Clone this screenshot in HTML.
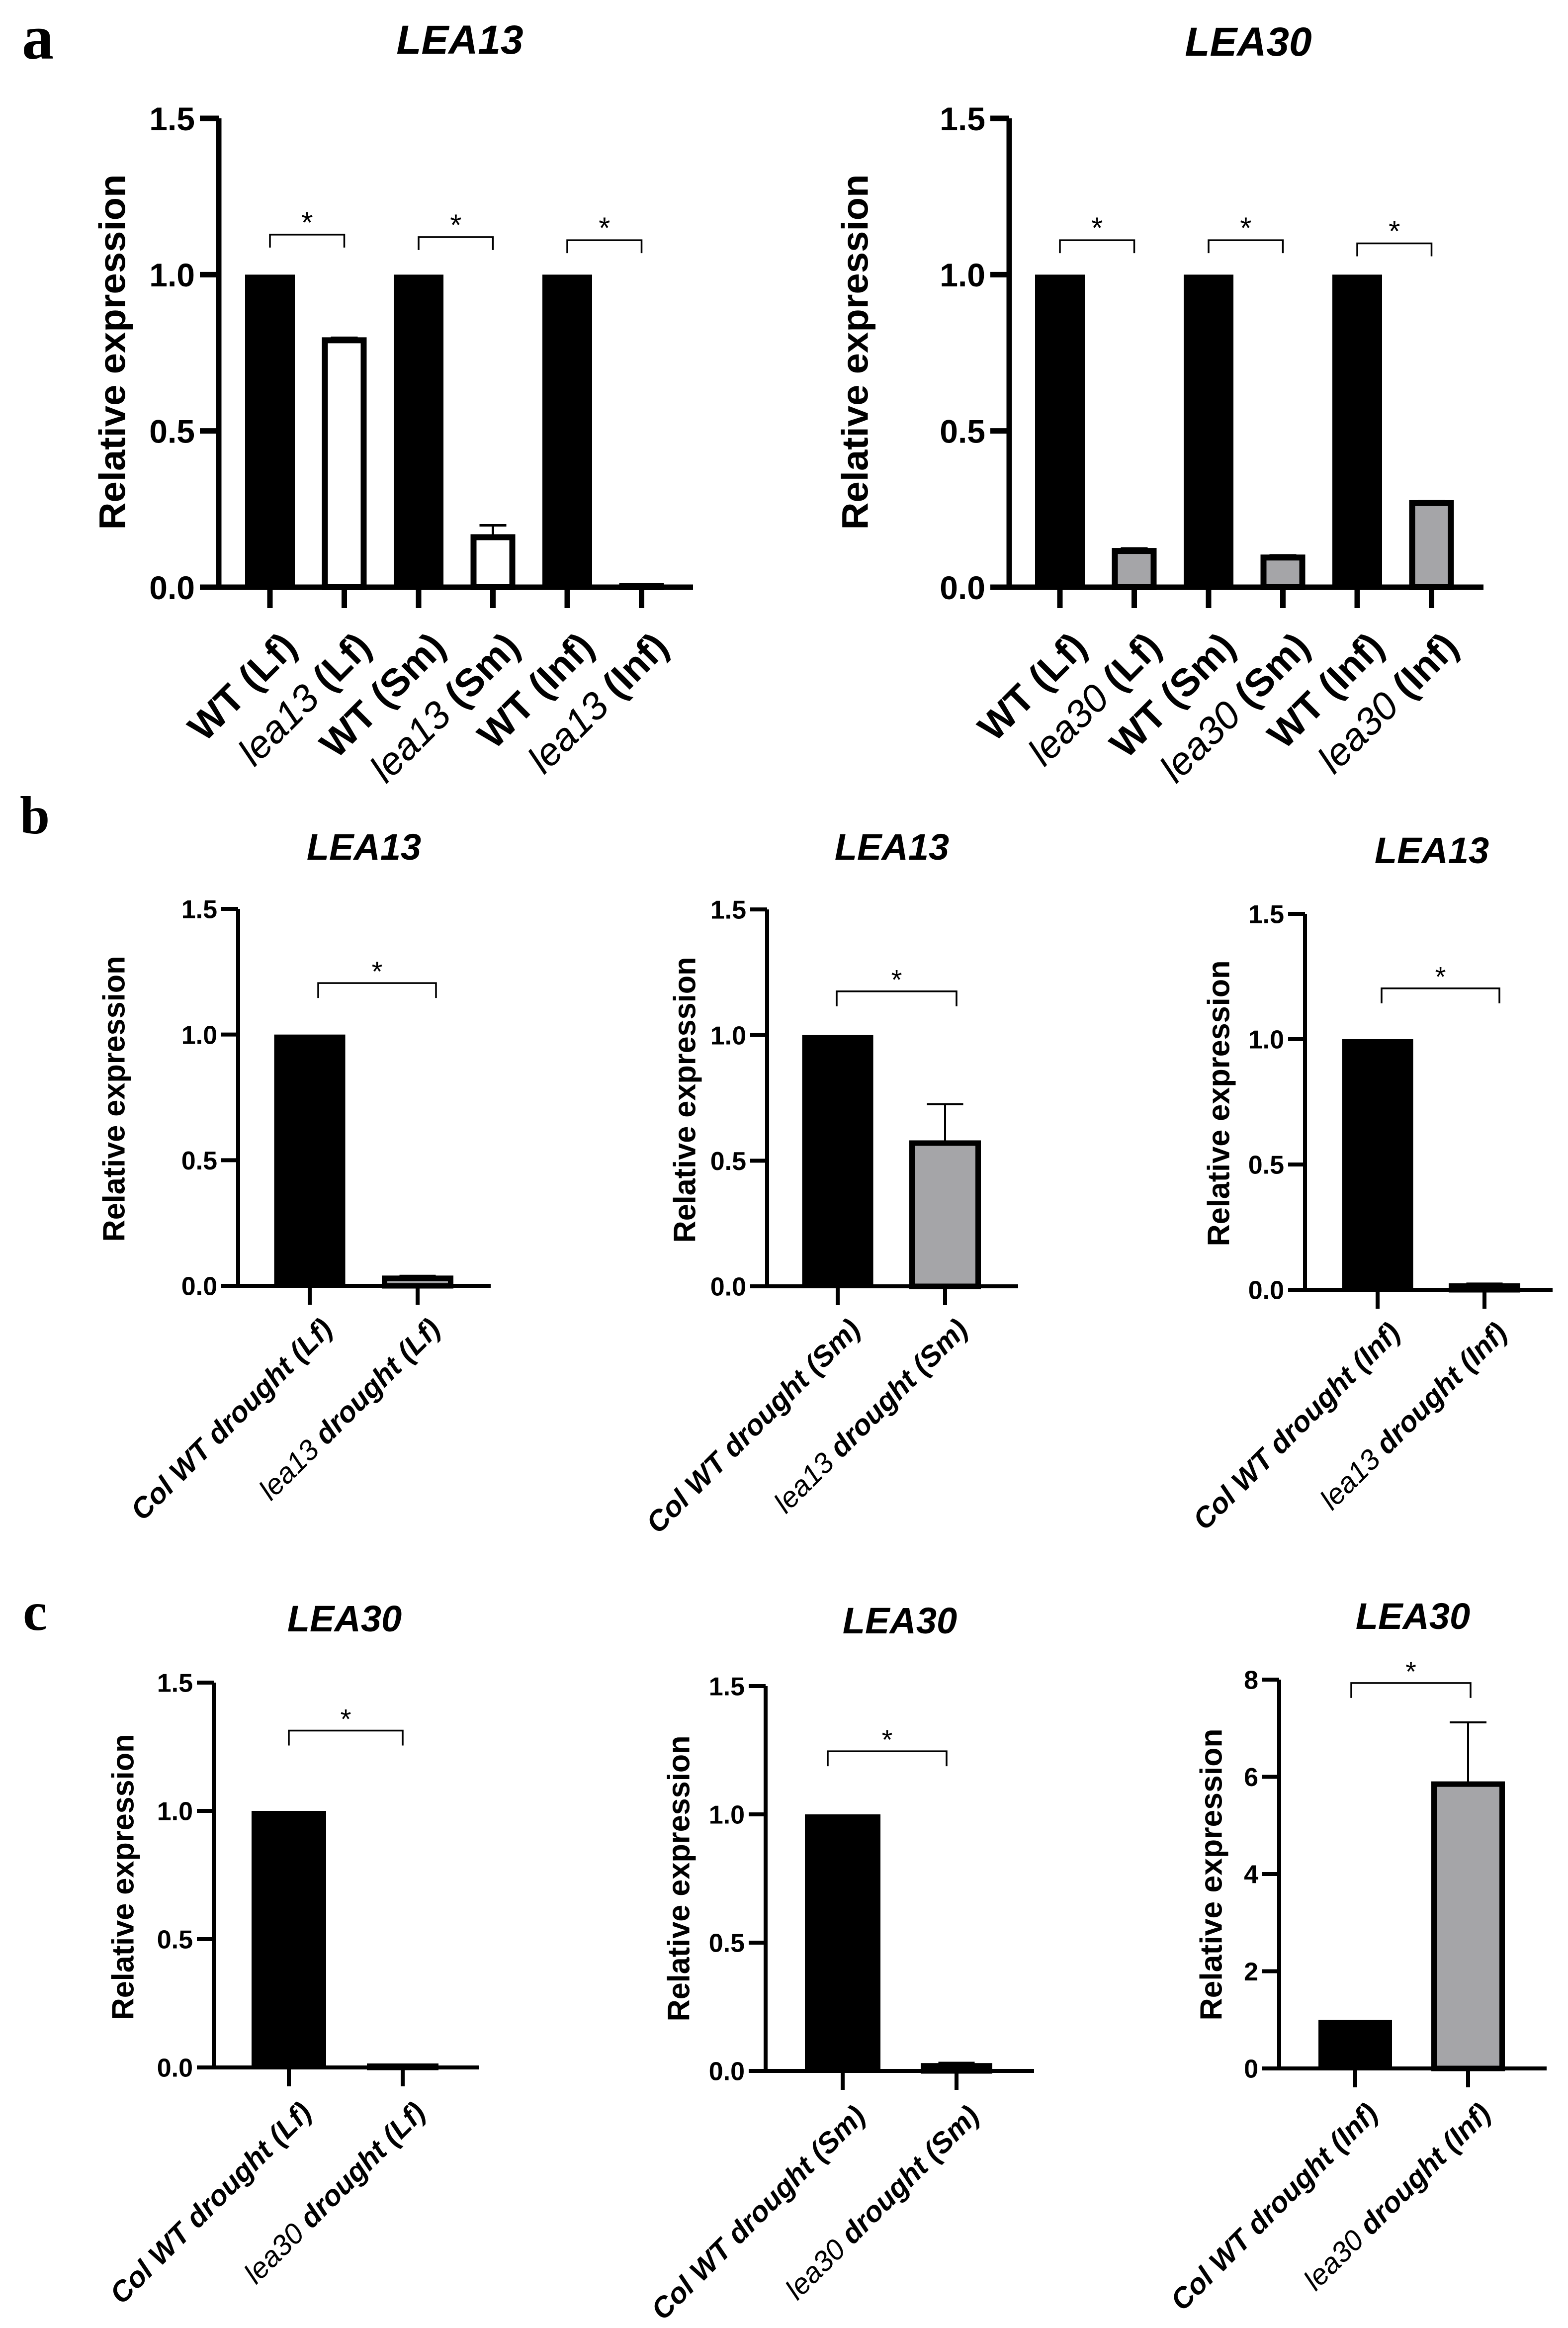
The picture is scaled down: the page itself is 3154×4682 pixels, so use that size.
<!DOCTYPE html>
<html><head><meta charset="utf-8">
<style>
html,body{margin:0;padding:0;background:#fff;}
svg{display:block;}
</style></head>
<body>
<svg id="fig" width="3154" height="4682" viewBox="0 0 3154 4682" xmlns="http://www.w3.org/2000/svg" style="font-family:'Liberation Sans',Arial,sans-serif">
<rect x="0" y="0" width="3154" height="4682" fill="#fff"/>
<text x="44" y="118" style="font-family:'Liberation Serif',serif;font-weight:bold;font-size:128px">a</text>
<text x="40" y="1676" style="font-family:'Liberation Serif',serif;font-weight:bold;font-size:108px">b</text>
<text x="46" y="3278" style="font-family:'Liberation Serif',serif;font-weight:bold;font-size:110px">c</text>
</svg>
<script>
// ---- data ----
const a1Cats = ['WT (Lf)','lea13 (Lf)','WT (Sm)','lea13 (Sm)','WT (Inf)','lea13 (Inf)'];
const a1Vals = [1, 0.79, 1, 0.16, 1, 0.004];
const a1Errs = [0, 0.008, 0, 0.038, 0, 0.004];
const a1Ticks = ['0.0','0.5','1.0','1.5'];
const a1Sig = [[0,1,1.128],[2,3,1.12],[4,5,1.11]];

const a2Cats = ['WT (Lf)','lea30 (Lf)','WT (Sm)','lea30 (Sm)','WT (Inf)','lea30 (Inf)'];
const a2Vals = [1, 0.116, 1, 0.095, 1, 0.269];
const a2Errs = [0, 0.008, 0, 0.007, 0, 0.006];
const a2Ticks = ['0.0','0.5','1.0','1.5'];
const a2Sig = [[0,1,1.11],[2,3,1.11],[4,5,1.10]];

const b1Cats = ['Col WT drought (Lf)','lea13 drought (Lf)'];
const b1Vals = [1, 0.03];
const b1Errs = [0, 0.01];
const b2Cats = ['Col WT drought (Sm)','lea13 drought (Sm)'];
const b2Vals = [1, 0.57];
const b2Errs = [0, 0.155];
const b3Cats = ['Col WT drought (Inf)','lea13 drought (Inf)'];
const b3Vals = [1, 0.015];
const b3Errs = [0, 0.01];
const bTicks = ['0.0','0.5','1.0','1.5'];

const c1Cats = ['Col WT drought (Lf)','lea30 drought (Lf)'];
const c1Vals = [1, 0.005];
const c1Errs = [0, 0.005];
const c2Cats = ['Col WT drought (Sm)','lea30 drought (Sm)'];
const c2Vals = [1, 0.02];
const c2Errs = [0, 0.012];
const c3Cats = ['Col WT drought (Inf)','lea30 drought (Inf)'];
const c3Vals = [1, 5.85];
const c3Errs = [0, 1.27];
const cTicks = ['0.0','0.5','1.0','1.5'];
const c3Ticks = ['0','2','4','6','8'];

const NS = 'http://www.w3.org/2000/svg';
const svg = document.getElementById('fig');
function el(tag, attrs, parent){
  const e = document.createElementNS(NS, tag);
  for (const k in attrs) e.setAttribute(k, attrs[k]);
  (parent||svg).appendChild(e);
  return e;
}

function chart(id, cfg, cats, vals, errs, ticks, sig, fills){
  const g = el('g', {});
  
  
  const maxV = parseFloat(ticks[ticks.length-1]);
  const yS = v => cfg.y0 - (v / maxV) * (cfg.y0 - cfg.yTop);
  const xS = i => cfg.x0 + i * cfg.step;
  const t = el('text', {x: cfg.titleX, y: cfg.titleY, 'text-anchor':'middle', 'font-size': cfg.titleFs, 'font-weight':'bold', 'font-style':'italic'}, g);
  
  
  t.textContent = cfg.title;
  const yl = el('text', {x:0, y:0, 'text-anchor':'middle', 'dominant-baseline':'central', 'font-size': cfg.ylFs, 'font-weight':'bold', transform:`translate(${cfg.ylX},${cfg.ylY}) rotate(-90)`, textLength: cfg.ylLen, lengthAdjust:'spacingAndGlyphs'}, g);
  
  
  yl.textContent = 'Relative expression';
  vals.forEach((v, i) => {
    const cx = xS(i);
    const isCtrl = fills[i] === 'black';
    const bw = isCtrl ? cfg.barW : cfg.barW2;
    let r;
    if (isCtrl) {
      r = el('rect', {x: cx - bw/2, y: yS(v), width: bw, height: cfg.y0 - yS(v), fill:'#000'}, g);
    } else {
      const sw = cfg.barSw;
      const top = yS(v);
      r = el('rect', {x: cx - bw/2 + sw/2, y: top, width: bw - sw, height: Math.max(cfg.y0 - top, 0.1), fill: fills[i], stroke:'#000', 'stroke-width': sw}, g);
    }
    
    
    if (errs[i] > 0) {
      const eTop = yS(v + errs[i]);
      const eb = el('path', {d:`M${cx},${yS(v)} V${eTop} M${cx - cfg.capW/2},${eTop} H${cx + cfg.capW/2}`, stroke:'#000', 'stroke-width': cfg.errSw, fill:'none'}, g);
      
      
    }
  });
  const ax = el('path', {d:`M${cfg.axisX},${cfg.yTop} V${cfg.y0} M${cfg.axisX - cfg.axSw/2},${cfg.y0} H${cfg.xEnd}`, stroke:'#000', 'stroke-width': cfg.axSw, fill:'none'}, g);
  
  
  ticks.forEach(tv => {
    const y = yS(parseFloat(tv));
    const tk = el('line', {x1: cfg.axisX - cfg.tickLen, x2: cfg.axisX, y1: y, y2: y, stroke:'#000', 'stroke-width': cfg.axSw}, g);
    
    
    const tl = el('text', {x: cfg.axisX - cfg.tickLabGap, y: y + cfg.tickFs*0.36, 'text-anchor':'end', 'font-size': cfg.tickFs, 'font-weight':'bold'}, g);
    
    
    tl.textContent = tv;
  });
  cats.forEach((c, i) => {
    const cx = xS(i);
    const tk = el('line', {x1: cx, x2: cx, y1: cfg.y0, y2: cfg.y0 + cfg.xTickLen, stroke:'#000', 'stroke-width': cfg.axSw}, g);
    
    
    const lx = cx + cfg.labDx, ly = cfg.y0 + cfg.labDy;
    const lab = el('text', {x:0, y:0, 'text-anchor':'end', 'font-size': cfg.labFs, 'font-weight':'bold', 'font-style': cfg.labItalic ? 'italic':'normal', transform:`translate(${lx},${ly}) rotate(${cfg.labRot})`}, g);
    
    
    const sp = c.indexOf(' ');
    const first = c.slice(0, sp), rest = c.slice(sp);
    if (first.startsWith('lea')) {
      const t1 = el('tspan', {'font-weight':'normal', 'font-style':'italic'}, lab);
      t1.textContent = first;
      const t2 = el('tspan', {}, lab);
      t2.textContent = rest;
    } else {
      lab.textContent = c;
    }
  });
  sig.forEach(s => {
    const xa = xS(s[0]) + (cfg.sigOff||0), xb = xS(s[1]) + (cfg.sigOff2||cfg.sigOff||0), y = yS(s[2]);
    const br = el('path', {d:`M${xa},${y + cfg.legLen} V${y} H${xb} V${y + cfg.legLen}`, stroke:'#000', 'stroke-width': 3.5, fill:'none'}, g);
    
    
    const st = el('text', {x: (xa + xb)/2, y: y - cfg.starGap, 'text-anchor':'middle', 'font-size': cfg.starFs}, g);
    
    
    st.textContent = '*';
  });
}

const aBase = {y0:1181, yTop:238, step:149.5, barW:100, barW2:90, barSw:12, capW:54, errSw:5, axSw:11, tickLen:38, tickLabGap:48, tickFs:66, xTickLen:42, labDx:58, labDy:124, labFs:78, labRot:-45, labItalic:false, legLen:26, starGap:4, starFs:60, titleFs:82, titleY:108, ylFs:74, ylY:708, ylLen:715};

chart('chart-a-lea13', Object.assign({}, aBase, {x0:543, axisX:440, xEnd:1394, title:'LEA13', titleX:925, ylX:226}),
  a1Cats, a1Vals, a1Errs, a1Ticks, a1Sig, ['black','#fff','black','#fff','black','#fff']);
chart('chart-a-lea30', Object.assign({}, aBase, {x0:2132, axisX:2030, xEnd:2984, title:'LEA30', titleX:2511, titleY:112, ylX:1720}),
  a2Cats, a2Vals, a2Errs, a2Ticks, a2Sig, ['black','#a5a5a8','black','#a5a5a8','black','#a5a5a8']);

const bBase = {barW:143, barW2:144, barSw:11, capW:73, errSw:4, axSw:8, tickLen:34, tickLabGap:42, tickFs:52, xTickLen:38, labDx:49, labDy:90, labFs:58, labRot:-45, labItalic:true, legLen:30, starGap:4, starFs:56, titleFs:74, ylFs:62, ylLen:575};

chart('chart-b-leaf', Object.assign({}, bBase, {y0:2586, yTop:1828, x0:623, step:217, axisX:479, xEnd:987, title:'LEA13', titleX:732, titleY:1729, ylX:230, ylY:2210, sigOff:17, sigOff2:37}),
  b1Cats, b1Vals, b1Errs, bTicks, [[0,1,1.205]], ['black','#a5a5a8']);
chart('chart-b-stem', Object.assign({}, bBase, {y0:2587, yTop:1829, x0:1685, step:216, axisX:1543, xEnd:2048, title:'LEA13', titleX:1794, titleY:1729, ylX:1378, ylY:2212, sigOff:-2, sigOff2:23}),
  b2Cats, b2Vals, b2Errs, bTicks, [[0,1,1.174]], ['black','#a5a5a8']);
chart('chart-b-inflorescence', Object.assign({}, bBase, {y0:2594, yTop:1838, x0:2771, step:215, axisX:2625, xEnd:3123, title:'LEA13', titleX:2880, titleY:1736, ylX:2452, ylY:2219, sigOff:8, sigOff2:30}),
  b3Cats, b3Vals, b3Errs, bTicks, [[0,1,1.203]], ['black','#a5a5a8']);

chart('chart-c-leaf', Object.assign({}, bBase, {y0:4158, yTop:3384, x0:581, step:229, barW:150, axisX:430, xEnd:964, title:'LEA30', titleX:693, titleY:3281, ylX:248, ylY:3775, labDy:94}),
  c1Cats, c1Vals, c1Errs, cTicks, [[0,1,1.313]], ['black','#a5a5a8']);
chart('chart-c-stem', Object.assign({}, bBase, {y0:4165, yTop:3391, x0:1695, step:229, barW:152, axisX:1540, xEnd:2080, title:'LEA30', titleX:1810, titleY:3285, ylX:1366, ylY:3778, sigOff:-30, sigOff2:-20, labDy:94}),
  c2Cats, c2Vals, c2Errs, cTicks, [[0,1,1.246]], ['black','#a5a5a8']);
chart('chart-c-inflorescence', Object.assign({}, bBase, {y0:4160, yTop:3378, x0:2726, step:227, barW:148, barW2:148, axisX:2573, xEnd:3111, title:'LEA30', titleX:2842, titleY:3276, ylX:2437, ylY:3770, ylLen:587, tickLabGap:42, capW:74, sigOff:-8, sigOff2:5, labDy:94}),
  c3Cats, c3Vals, c3Errs, c3Ticks, [[0,1,7.93]], ['black','#a5a5a8']);
</script>
</body></html>
